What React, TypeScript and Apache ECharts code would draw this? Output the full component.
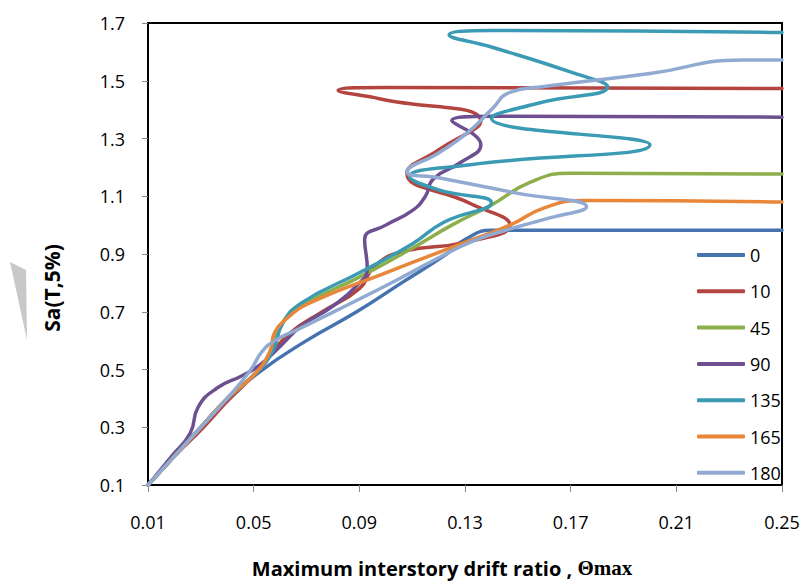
import React, { useEffect, useRef } from "react";
import * as echarts from "echarts";

const seriesNames = ["0", "10", "45", "90", "135", "165", "180"];
const seriesColors = ["#4673AF", "#B4443F", "#8CAF4B", "#6E5091", "#3C9BB4", "#E8863A", "#91AAD2"];

const xTicks = [0.01, 0.05, 0.09, 0.13, 0.17, 0.21, 0.25];
const yTicks = [0.1, 0.3, 0.5, 0.7, 0.9, 1.1, 1.3, 1.5, 1.7];

const s0 = [
  [0.01, 0.1], [0.02, 0.2], [0.03, 0.3], [0.041, 0.4], [0.052, 0.49], [0.07, 0.6],
  [0.089, 0.7], [0.106, 0.8], [0.123, 0.9], [0.13, 0.95], [0.14, 0.982], [0.25, 0.982],
];
const s10 = [
  [0.01, 0.1], [0.02, 0.2], [0.031, 0.3], [0.041, 0.4], [0.051, 0.49], [0.063, 0.62],
  [0.076, 0.7], [0.09, 0.78], [0.096, 0.86], [0.107, 0.91], [0.13, 0.94], [0.147, 1.0],
  [0.132, 1.075], [0.108, 1.18], [0.12, 1.26], [0.136, 1.36], [0.098, 1.437], [0.082, 1.467],
  [0.1, 1.477], [0.25, 1.473],
];
const s45 = [
  [0.01, 0.1], [0.02, 0.2], [0.03, 0.3], [0.04, 0.4], [0.05, 0.48], [0.056, 0.55],
  [0.06, 0.65], [0.068, 0.72], [0.09, 0.82], [0.11, 0.92], [0.125, 1.0], [0.14, 1.07],
  [0.155, 1.15], [0.17, 1.18], [0.25, 1.177],
];
const s90 = [
  [0.01, 0.1], [0.019, 0.2], [0.026, 0.28], [0.029, 0.37], [0.036, 0.435], [0.046, 0.48],
  [0.053, 0.52], [0.06, 0.58], [0.068, 0.65], [0.08, 0.72], [0.089, 0.79], [0.093, 0.85],
  [0.092, 0.95], [0.1, 1.0], [0.11, 1.05], [0.115, 1.1], [0.118, 1.16], [0.128, 1.215],
  [0.136, 1.278], [0.125, 1.362], [0.14, 1.377], [0.25, 1.374],
];
const s135 = [
  [0.01, 0.1], [0.02, 0.2], [0.03, 0.3], [0.04, 0.4], [0.05, 0.48], [0.057, 0.56],
  [0.061, 0.66], [0.068, 0.73], [0.09, 0.835], [0.11, 0.935], [0.122, 1.01], [0.14, 1.077],
  [0.12, 1.122], [0.109, 1.168], [0.132, 1.209], [0.2, 1.278], [0.14, 1.37], [0.158, 1.423],
  [0.184, 1.479], [0.171, 1.527], [0.14, 1.617], [0.124, 1.659], [0.14, 1.674], [0.25, 1.667],
];
const s165 = [
  [0.01, 0.1], [0.02, 0.2], [0.03, 0.3], [0.04, 0.4], [0.05, 0.48], [0.056, 0.56],
  [0.058, 0.63], [0.063, 0.68], [0.07, 0.725], [0.1, 0.835], [0.13, 0.94], [0.147, 1.0],
  [0.16, 1.06], [0.175, 1.085], [0.25, 1.08],
];
const s180 = [
  [0.01, 0.1], [0.02, 0.2], [0.03, 0.3], [0.04, 0.4], [0.049, 0.5], [0.053, 0.56],
  [0.058, 0.6], [0.067, 0.64], [0.1, 0.79], [0.12, 0.887], [0.133, 0.945], [0.146, 0.984],
  [0.16, 1.02], [0.176, 1.064], [0.15, 1.11], [0.12, 1.164], [0.108, 1.185], [0.12, 1.25],
  [0.131, 1.32], [0.14, 1.4], [0.147, 1.46], [0.16, 1.48], [0.2, 1.525], [0.235, 1.572],
  [0.25, 1.572],
];
const seriesData = [s0, s10, s45, s90, s135, s165, s180];

export default function App() {
  const ref = useRef<HTMLDivElement>(null);
  useEffect(() => {
    if (!ref.current) return;
    const chart = echarts.init(ref.current, null, { renderer: "svg" });
    const font = "'Open Sans', 'Noto Sans', sans-serif";
    chart.setOption({
      animation: false,
      backgroundColor: "#fff",
      grid: {
        left: 148, top: 23, width: 634, height: 462,
        show: true, borderColor: "#000", borderWidth: 2, backgroundColor: "transparent",
      },
      xAxis: {
        type: "value", min: 0.01, max: 0.25,
        axisLine: { show: true, onZero: false, lineStyle: { color: "#000", width: 2 } },
        axisTick: { show: true, customValues: xTicks, length: 7, lineStyle: { color: "#888", width: 1 } },
        axisLabel: {
          customValues: xTicks, formatter: (v: number) => v.toFixed(2), margin: 28,
          fontSize: 18, fontFamily: font, color: "#000",
        },
        splitLine: { show: false },
      },
      yAxis: {
        type: "value", min: 0.1, max: 1.7,
        axisLine: { show: true, onZero: false, lineStyle: { color: "#000", width: 2 } },
        axisTick: { show: true, customValues: yTicks, length: 6, lineStyle: { color: "#888", width: 1 } },
        axisLabel: {
          customValues: yTicks, formatter: (v: number) => v.toFixed(1), margin: 23,
          fontSize: 18, fontFamily: font, color: "#000",
        },
        splitLine: { show: false },
      },
      legend: {
        orient: "vertical", left: 692, top: 241, itemWidth: 48, itemHeight: 4, itemGap: 18.3,
        icon: "roundRect",
        data: seriesNames,
        textStyle: { fontSize: 18, fontFamily: font, color: "#000", lineHeight: 18 },
      },
      graphic: [
        { type: "polygon", shape: { points: [[10, 262], [26, 270], [27, 340]] }, style: { fill: "#c8c8c8" } },
        {
          type: "text", x: 52, y: 288, rotation: Math.PI / 2,
          style: { text: "Sa(T,5%)", font: `bold 21px ${font}`, fill: "#000", align: "center", verticalAlign: "middle" },
        },
        {
          type: "text", x: 442, y: 568,
          style: {
            text: "{a|Maximum interstory drift ratio , }{b|\u0398max}",
            align: "center", verticalAlign: "middle",
            rich: {
              a: { fontFamily: font, fontWeight: "bold", fontSize: 20, color: "#000" },
              b: { fontFamily: "'Liberation Serif', 'DejaVu Serif', serif", fontWeight: "bold", fontSize: 21, color: "#000" },
            },
          },
        },
      ],
      series: seriesNames.map((name, i) => ({
        name, type: "line", data: seriesData[i], smooth: 0.5, showSymbol: false, symbol: "none",
        color: seriesColors[i],
        itemStyle: { color: seriesColors[i] },
        lineStyle: { color: seriesColors[i], width: 3.5, cap: "round", join: "round" },
      })),
    });
    return () => chart.dispose();
  }, []);
  return <div ref={ref} style={{ position: "fixed", left: 0, top: 0, width: 804, height: 581 }} />;
}
